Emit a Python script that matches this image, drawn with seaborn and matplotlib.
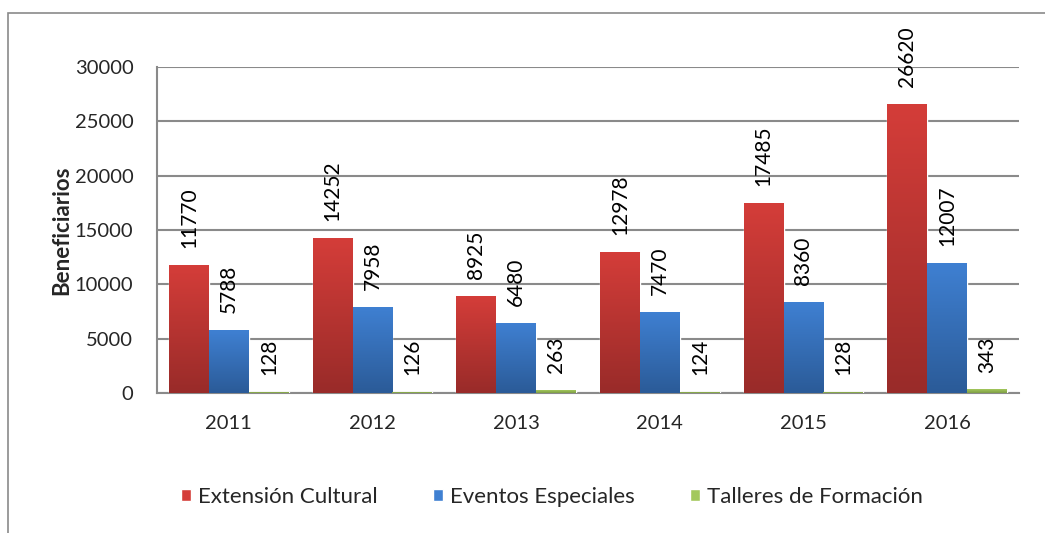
import numpy as np
import pandas as pd
import matplotlib
matplotlib.use("Agg")
import matplotlib.pyplot as plt
from matplotlib.colors import LinearSegmentedColormap
from matplotlib.patches import Rectangle
import seaborn as sns

years = ["2011", "2012", "2013", "2014", "2015", "2016"]
series = ["Extensión Cultural", "Eventos Especiales", "Talleres de Formación"]
extension = [11770, 14252, 8925, 12978, 17485, 26620]
eventos = [5788, 7958, 6480, 7470, 8360, 12007]
talleres = [128, 126, 263, 124, 128, 343]

# top / bottom colours of each bar gradient
grad = {
    "Extensión Cultural": ("#D43D39", "#992B29"),
    "Eventos Especiales": ("#3F80D2", "#2B5B98"),
    "Talleres de Formación": ("#A3C85C", "#7E9E45"),
}

df = pd.DataFrame({
    "year": years * 3,
    "serie": [series[0]] * 6 + [series[1]] * 6 + [series[2]] * 6,
    "value": extension + eventos + talleres,
})

sns.set_style("white")
plt.rcParams["font.family"] = ["Lato", "DejaVu Sans"]
font = 14.5

fig = plt.figure(figsize=(10.45, 5.33), dpi=100)
ax = fig.add_axes([157/1045, 1-393/533, 862/1045, 326/533])

palette = {k: v[0] for k, v in grad.items()}
sns.barplot(data=df, x="year", y="value", hue="serie", hue_order=series,
            palette=palette, width=0.835, saturation=1, ax=ax, zorder=3)

handles, labels = ax.get_legend_handles_labels()
ax.get_legend().remove()

# gradient fill clipped to each bar
for cont, name in zip(ax.containers, series):
    cmap = LinearSegmentedColormap.from_list(name, [grad[name][1], grad[name][0]])
    for bar in cont:
        x0, y0 = bar.get_x(), bar.get_y()
        w, h = bar.get_width(), bar.get_height()
        im = ax.imshow(np.linspace(0, 1, 100).reshape(-1, 1), cmap=cmap, aspect="auto",
                       origin="lower", extent=[x0, x0 + w, y0, y0 + h], zorder=3.5)
        im.set_clip_path(bar)
    ax.bar_label(cont, rotation=90, padding=12, fontsize=font + 0.5, color="black")

ax.set_xlim(-0.5, 5.5)
ax.set_ylim(0, 30000)
ax.set_yticks(np.arange(0, 30001, 5000))
ax.yaxis.grid(True, color="#8a8a8a", linewidth=1.5, zorder=0)
ax.set_axisbelow(True)
for side in ["top", "right"]:
    ax.spines[side].set_visible(False)
for side in ["left", "bottom"]:
    ax.spines[side].set_color("#8a8a8a")
    ax.spines[side].set_linewidth(1.5)
ax.tick_params(axis="y", length=0, pad=17, labelsize=font)
ax.tick_params(axis="x", length=0, pad=16, labelsize=font)
ax.set_xlabel("")
ax.set_ylabel("Beneficiarios", fontsize=16, fontweight="bold")
ax.yaxis.set_label_coords(-0.098, 0.5)

fig.legend(handles, labels, loc="center", bbox_to_anchor=(0.528, 1-497/533), ncol=3,
           frameon=False, fontsize=16, handlelength=0.45, handleheight=0.45,
           handletextpad=0.3, columnspacing=2.5)

# outer chart frame (cut off at right and bottom)
fig.patches.append(Rectangle((8/1045, -0.1), 1.2, 1.1 - 13/533, transform=fig.transFigure,
                             fill=False, edgecolor="#8a8a8a", linewidth=1.2))

fig.savefig("out.png", dpi=100)
